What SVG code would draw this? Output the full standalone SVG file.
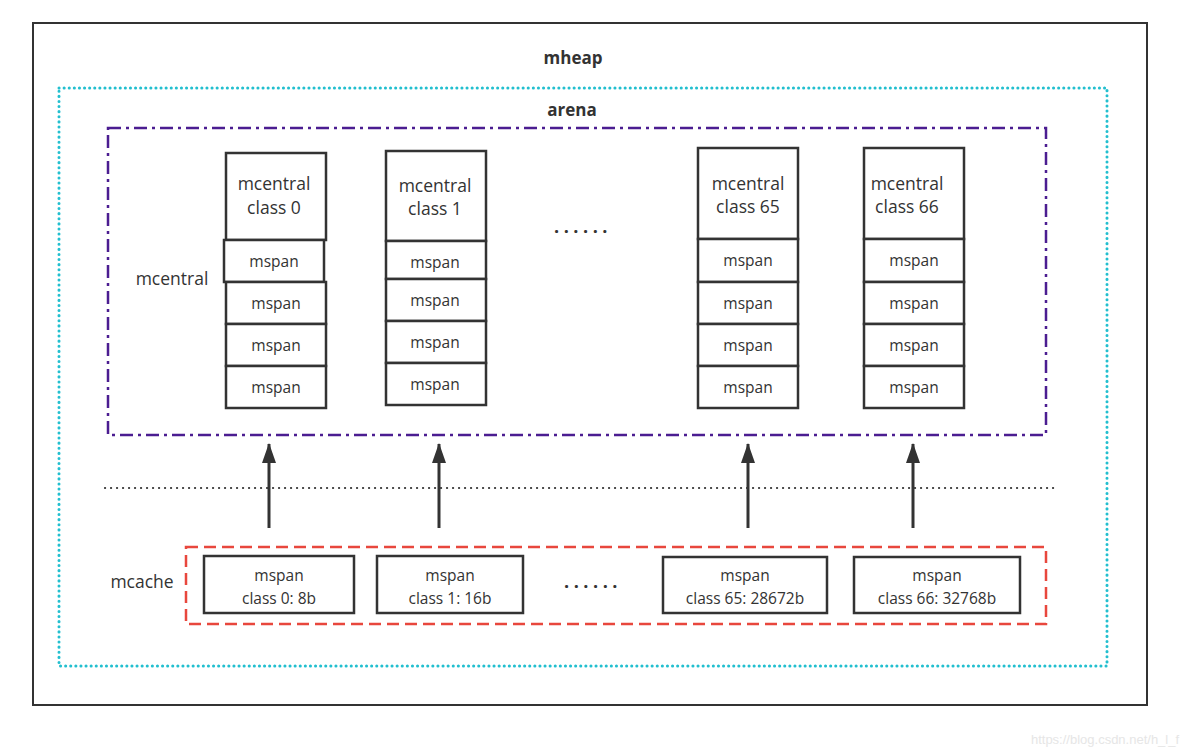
<svg xmlns="http://www.w3.org/2000/svg" width="1200" height="755" viewBox="0 0 1200 755">
<defs>
<style>
.box{fill:#fff;stroke:#333;stroke-width:2.5}
.t{font-family:"Open Sans","Noto Sans","Liberation Sans",sans-serif;fill:#333;text-anchor:middle}
.h{font-size:17.5px}
.s{font-size:15.5px}
.m{font-size:15.5px}
.b{font-weight:bold;font-size:17px}
.arr{stroke:#333;stroke-width:3;fill:none;marker-end:url(#ah)}
</style>
<marker id="ah" viewBox="0 0 20 14" refX="19" refY="7" markerWidth="20" markerHeight="14" markerUnits="userSpaceOnUse" orient="auto">
<path d="M0 0 L20 7 L0 14 Z" fill="#333"/>
</marker>
</defs>
<rect width="1200" height="755" fill="#fff"/>
<g id="mheap">
<rect x="33" y="23" width="1114" height="682" fill="none" stroke="#333" stroke-width="2"/>
<text class="t b" x="573" y="64">mheap</text>
</g>
<g id="arena">
<rect x="59" y="88" width="1048" height="578" fill="none" stroke="#22bfcf" stroke-width="3" stroke-dasharray="0.1 5" stroke-linecap="round"/>
<text class="t b" x="572" y="116">arena</text>
</g>
<g id="mcentral">
<rect x="108" y="128" width="938" height="307" fill="none" stroke="#4b1d91" stroke-width="2.5" stroke-dasharray="13 5 3 5"/>
<text class="t h" x="172" y="285">mcentral</text>
</g>
<g id="mcentral-class0">
<rect class="box" x="226" y="153" width="100" height="87"/>
<text class="t h" x="274" y="190">mcentral</text>
<text class="t h" x="274" y="214">class 0</text>
<rect class="box" x="224" y="240" width="100" height="42"/>
<text class="t s" x="274" y="267">mspan</text>
<rect class="box" x="226" y="282" width="100" height="42"/>
<text class="t s" x="276" y="309">mspan</text>
<rect class="box" x="226" y="324" width="100" height="42"/>
<text class="t s" x="276" y="351">mspan</text>
<rect class="box" x="226" y="366" width="100" height="42"/>
<text class="t s" x="276" y="393">mspan</text>
</g>
<g id="mcentral-class1">
<rect class="box" x="386" y="151" width="100" height="90"/>
<text class="t h" x="435" y="192">mcentral</text>
<text class="t h" x="435" y="215">class 1</text>
<rect class="box" x="386" y="241" width="100" height="38"/>
<text class="t s" x="435" y="268">mspan</text>
<rect class="box" x="386" y="279" width="100" height="42"/>
<text class="t s" x="435" y="306">mspan</text>
<rect class="box" x="386" y="321" width="100" height="42"/>
<text class="t s" x="435" y="348">mspan</text>
<rect class="box" x="386" y="363" width="100" height="42"/>
<text class="t s" x="435" y="390">mspan</text>
</g>
<g id="dots-top">
<text class="t" x="583" y="233" style="font-size:18px;font-weight:bold;letter-spacing:4.5px">......</text>
</g>
<g id="mcentral-class65">
<rect class="box" x="698" y="148" width="100" height="91"/>
<text class="t h" x="748" y="190">mcentral</text>
<text class="t h" x="748" y="213">class 65</text>
<rect class="box" x="698" y="239" width="100" height="43"/>
<text class="t s" x="748" y="266">mspan</text>
<rect class="box" x="698" y="282" width="100" height="42"/>
<text class="t s" x="748" y="309">mspan</text>
<rect class="box" x="698" y="324" width="100" height="42"/>
<text class="t s" x="748" y="351">mspan</text>
<rect class="box" x="698" y="366" width="100" height="42"/>
<text class="t s" x="748" y="393">mspan</text>
</g>
<g id="mcentral-class66">
<rect class="box" x="864" y="148" width="100" height="91"/>
<text class="t h" x="907" y="190">mcentral</text>
<text class="t h" x="907" y="213">class 66</text>
<rect class="box" x="864" y="239" width="100" height="43"/>
<text class="t s" x="914" y="266">mspan</text>
<rect class="box" x="864" y="282" width="100" height="42"/>
<text class="t s" x="914" y="309">mspan</text>
<rect class="box" x="864" y="324" width="100" height="42"/>
<text class="t s" x="914" y="351">mspan</text>
<rect class="box" x="864" y="366" width="100" height="42"/>
<text class="t s" x="914" y="393">mspan</text>
</g>
<g id="separator">
<line x1="105" y1="488" x2="1055" y2="488" stroke="#333" stroke-width="2.2" stroke-dasharray="0.1 5.9" stroke-linecap="round"/>
</g>
<g id="mcache">
<rect x="186" y="547" width="860" height="77" fill="none" stroke="#e8473d" stroke-width="2.5" stroke-dasharray="12 6"/>
<text class="t h" x="142" y="588">mcache</text>
</g>
<g id="mcache-class0">
<rect class="box" x="204" y="556" width="150" height="57"/>
<text class="t m" x="279" y="581">mspan</text>
<text class="t m" x="279" y="604">class 0: 8b</text>
</g>
<g id="mcache-class1">
<rect class="box" x="377" y="556" width="146" height="57"/>
<text class="t m" x="450" y="581">mspan</text>
<text class="t m" x="450" y="604">class 1: 16b</text>
</g>
<g id="dots-bottom">
<text class="t" x="593" y="588" style="font-size:18px;font-weight:bold;letter-spacing:4.5px">......</text>
</g>
<g id="mcache-class65">
<rect class="box" x="663" y="557" width="164" height="56"/>
<text class="t m" x="745" y="581">mspan</text>
<text class="t m" x="745" y="604">class 65: 28672b</text>
</g>
<g id="mcache-class66">
<rect class="box" x="854" y="557" width="166" height="56"/>
<text class="t m" x="937" y="581">mspan</text>
<text class="t m" x="937" y="604">class 66: 32768b</text>
</g>
<g id="connectors">
<line class="arr" x1="269" y1="528" x2="269" y2="444"/>
<line class="arr" x1="439" y1="528" x2="439" y2="444"/>
<line class="arr" x1="748" y1="528" x2="748" y2="444"/>
<line class="arr" x1="913" y1="528" x2="913" y2="444"/>
</g>
<text x="1105" y="744" font-family="Liberation Sans,Arial,sans-serif" font-size="13" fill="#e6e6e6" text-anchor="middle">https://blog.csdn.net/h_l_f</text>
</svg>
